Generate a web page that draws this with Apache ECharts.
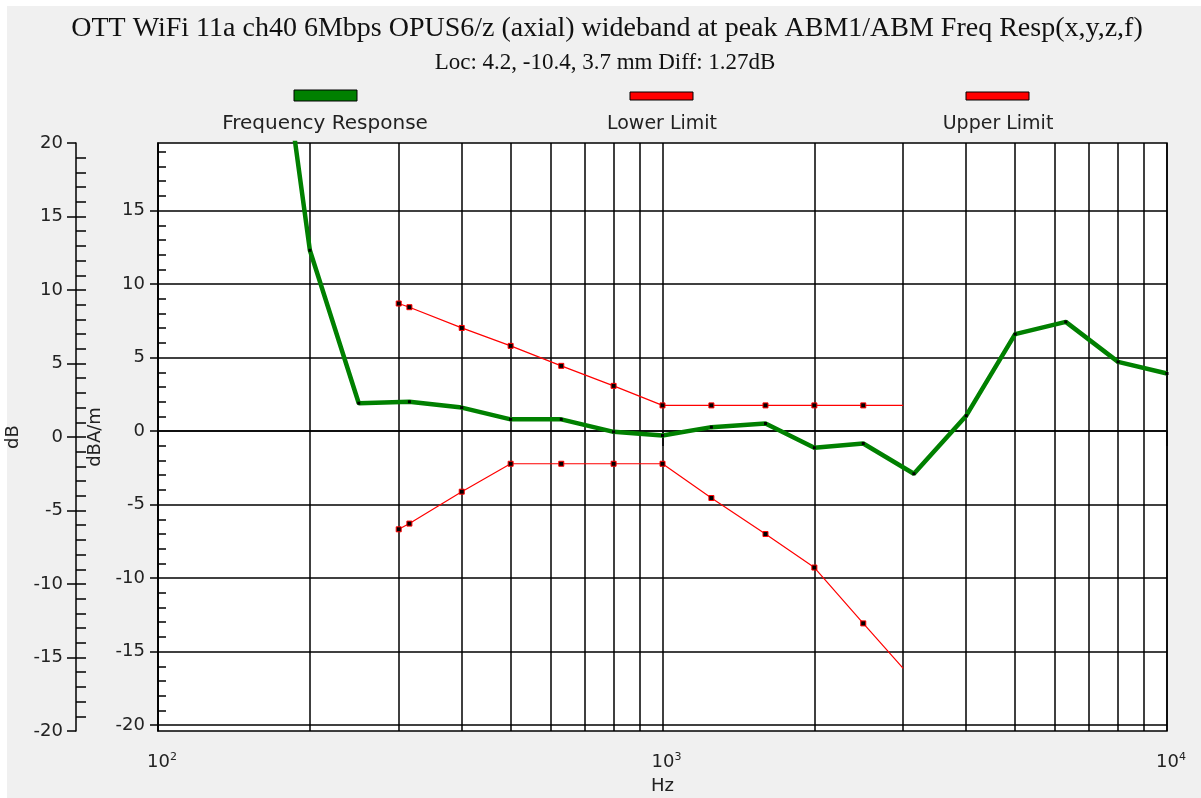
<!DOCTYPE html>
<html><head><meta charset="utf-8">
<script src="https://cdn.jsdelivr.net/npm/echarts@6/dist/echarts.min.js"></script>
<style>
html,body{margin:0;padding:0;background:#fff;}
#bg{position:absolute;left:7px;top:6px;width:1194px;height:792px;background:#f0f0f0;}
#c{position:absolute;left:0;top:0;width:1201px;height:798px;}
</style></head><body><div id="bg"></div><div id="c"></div>
<script>
const titleText = 'OTT WiFi 11a ch40 6Mbps OPUS6/z (axial) wideband at peak ABM1/ABM Freq Resp(x,y,z,f)';
const subTitleText = 'Loc: 4.2, -10.4, 3.7 mm Diff: 1.27dB';
const seriesNames = ['Frequency Response', 'Lower Limit', 'Upper Limit'];
const seriesColors = ['#008000', '#ff0000', '#ff0000'];

const respFreq = [160, 200, 250, 315, 400, 500, 630, 800, 1000, 1250, 1600, 2000, 2500, 3150, 4000, 5000, 6300, 8000, 10000];
const respDb   = [36.7, 12.3, 1.9, 2.0, 1.6, 0.8, 0.8, -0.05, -0.3, 0.27, 0.52, -1.13, -0.84, -2.9, 1.05, 6.6, 7.43, 4.71, 3.92];

const limitFreq = [300, 315, 400, 500, 630, 800, 1000, 1250, 1600, 2000, 2500, 3000];
const lowerDb   = [-6.68, -6.29, -4.12, -2.22, -2.22, -2.22, -2.22, -4.55, -7.0, -9.28, -13.08, -16.14];
const upperDb   = [8.68, 8.43, 7.02, 5.80, 4.44, 3.08, 1.75, 1.75, 1.75, 1.75, 1.75, 1.75];

const xDecades = [100, 1000, 10000];
const xMinorGrid = [200, 300, 400, 500, 600, 700, 800, 900, 2000, 3000, 4000, 5000, 6000, 7000, 8000, 9000];
const innerMajor = [-20, -15, -10, -5, 0, 5, 10, 15];
const innerMinor = [-19,-18,-17,-16,-14,-13,-12,-11,-9,-8,-7,-6,-4,-3,-2,-1,1,2,3,4,6,7,8,9,11,12,13,14,16,17,18,19];
const outerMajor = [-20, -15, -10, -5, 0, 5, 10, 15, 20];
const outerMinor = [-19,-18,-17,-16,-15,-14,-13,-12,-11,-10,-9,-8,-7,-6,-5,-4,-3,-2,-1,0,1,2,3,4,5,6,7,8,9,10,11,12,13,14,15,16,17,18,19];

const SANS = 'DejaVu Sans';
const SERIF = 'Liberation Serif';
const TXT = '#222';
const LW = 1.5;

const chart = echarts.init(document.getElementById('c'), null, {renderer: 'canvas'});

function limitData(vals) {
  return limitFreq.map((f, i) => i === limitFreq.length - 1 ? {value: [f, vals[i]], symbol: 'none'} : [f, vals[i]]);
}

const yCommon = {type: 'value', gridIndex: 0, position: 'left'};

const option = {
  animation: false,
  grid: {left: 158, top: 143, width: 1009, height: 588, containLabel: false, outerBoundsMode: 'none',
         show: true, backgroundColor: '#fff', borderColor: '#000', borderWidth: LW},
  graphic: [
    {type: 'text', x: 607, y: 29, style: {text: titleText, font: '28px ' + SERIF, fill: '#111', textAlign: 'center', textVerticalAlign: 'middle'}},
    {type: 'text', x: 605, y: 63, style: {text: subTitleText, font: '23px ' + SERIF, fill: '#111', textAlign: 'center', textVerticalAlign: 'middle'}},
    {type: 'rect', shape: {x: 294, y: 90, width: 63, height: 11}, style: {fill: seriesColors[0], stroke: '#000', lineWidth: 1}},
    {type: 'text', x: 325, y: 124, style: {text: seriesNames[0], font: '20px ' + SANS, fill: TXT, textAlign: 'center', textVerticalAlign: 'middle'}},
    {type: 'rect', shape: {x: 630, y: 92, width: 63, height: 8}, style: {fill: seriesColors[1], stroke: '#000', lineWidth: 1}},
    {type: 'text', x: 662, y: 124, style: {text: seriesNames[1], font: '19px ' + SANS, fill: TXT, textAlign: 'center', textVerticalAlign: 'middle'}},
    {type: 'rect', shape: {x: 966, y: 92, width: 63, height: 8}, style: {fill: seriesColors[2], stroke: '#000', lineWidth: 1}},
    {type: 'text', x: 998, y: 124, style: {text: seriesNames[2], font: '19px ' + SANS, fill: TXT, textAlign: 'center', textVerticalAlign: 'middle'}}
  ],
  xAxis: [
    {
      type: 'log', logBase: 10, min: 100, max: 10000, gridIndex: 0, position: 'bottom',
      name: 'Hz', nameLocation: 'middle', nameGap: 46,
      nameTextStyle: {fontFamily: SANS, fontSize: 18, color: TXT},
      axisLine: {show: true, lineStyle: {color: '#000', width: LW}},
      axisTick: {show: true, length: 15, customValues: xDecades, lineStyle: {color: '#000', width: LW}},
      axisLabel: {
        show: true, customValues: xDecades, margin: 21,
        formatter: v => '{p|}{a|10}{s|' + Math.round(Math.log10(v)) + '}',
        rich: {
          p: {width: 8},
          a: {fontFamily: SANS, fontSize: 18, color: TXT, lineHeight: 20},
          s: {fontFamily: SANS, fontSize: 11, color: TXT, lineHeight: 20, verticalAlign: 'top', padding: [0, 0, 8, 0]}
        }
      },
      splitLine: {show: true, lineStyle: {color: '#000', width: LW}}
    },
    {
      type: 'log', logBase: 10, min: 100, max: 10000, gridIndex: 0, position: 'bottom',
      axisLine: {show: false},
      axisTick: {show: false, customValues: xMinorGrid},
      axisLabel: {show: false},
      splitLine: {show: true, lineStyle: {color: '#000', width: LW}}
    }
  ],
  yAxis: [
    Object.assign({}, yCommon, {
      min: -20.4, max: 19.6, offset: 0,
      name: 'dBA/m', nameLocation: 'middle', nameGap: 48, nameRotate: 90,
      nameTextStyle: {fontFamily: SANS, fontSize: 18, color: TXT},
      axisLine: {show: true, lineStyle: {color: '#000', width: LW}},
      axisTick: {show: true, inside: false, length: 8, customValues: innerMajor, lineStyle: {color: '#000', width: LW}},
      axisLabel: {show: true, customValues: innerMajor, margin: 13, fontFamily: SANS, fontSize: 18, color: TXT},
      splitLine: {show: true, lineStyle: {color: '#000', width: LW}}
    }),
    Object.assign({}, yCommon, {
      min: -20.4, max: 19.6, offset: 0,
      axisLine: {show: false},
      axisTick: {show: true, inside: true, length: 8, customValues: innerMinor, lineStyle: {color: '#000', width: LW}},
      axisLabel: {show: false},
      splitLine: {show: false}
    }),
    Object.assign({}, yCommon, {
      min: -20, max: 20, offset: 82,
      name: 'dB', nameLocation: 'middle', nameGap: 46, nameRotate: 90,
      nameTextStyle: {fontFamily: SANS, fontSize: 18, color: TXT},
      axisLine: {show: true, lineStyle: {color: '#000', width: LW}},
      axisTick: {show: true, inside: false, length: 9, customValues: outerMajor, lineStyle: {color: '#000', width: LW}},
      axisLabel: {show: true, customValues: outerMajor, margin: 13, fontFamily: SANS, fontSize: 18, color: TXT},
      splitLine: {show: false}
    }),
    Object.assign({}, yCommon, {
      min: -20, max: 20, offset: 82,
      axisLine: {show: false},
      axisTick: {show: true, inside: true, length: 10, customValues: outerMinor, lineStyle: {color: '#000', width: LW}},
      axisLabel: {show: false},
      splitLine: {show: false}
    })
  ],
  series: [
    {
      name: seriesNames[0], type: 'line', xAxisIndex: 0, yAxisIndex: 0, clip: true, z: 3,
      data: respFreq.map((f, i) => [f, respDb[i]]),
      lineStyle: {color: seriesColors[0], width: 4.5},
      symbol: 'rect', symbolSize: 3, showSymbol: true,
      itemStyle: {color: '#000', borderWidth: 0},
      emphasis: {disabled: true}
    },
    {
      name: seriesNames[1], type: 'line', xAxisIndex: 0, yAxisIndex: 0, clip: true, z: 4,
      data: limitData(lowerDb),
      lineStyle: {color: seriesColors[1], width: 1.2},
      symbol: 'rect', symbolSize: 5, showSymbol: true,
      itemStyle: {color: '#000', borderColor: seriesColors[1], borderWidth: 1},
      emphasis: {disabled: true}
    },
    {
      name: seriesNames[2], type: 'line', xAxisIndex: 0, yAxisIndex: 0, clip: true, z: 4,
      data: limitData(upperDb),
      lineStyle: {color: seriesColors[2], width: 1.2},
      symbol: 'rect', symbolSize: 5, showSymbol: true,
      itemStyle: {color: '#000', borderColor: seriesColors[2], borderWidth: 1},
      emphasis: {disabled: true}
    }
  ]
};
chart.setOption(option);
</script></body></html>
